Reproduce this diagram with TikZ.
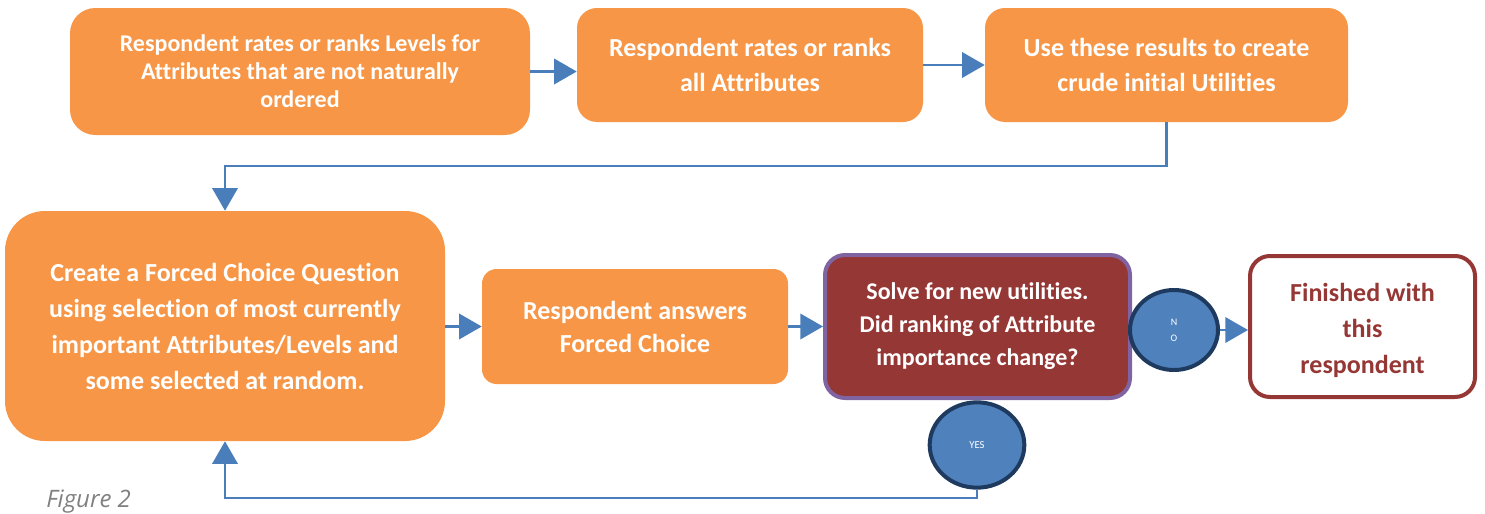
\documentclass[tikz,border=0pt]{standalone}
\usepackage{fontspec}
\setmainfont[Ligatures=NoCommon]{Carlito}
\newfontfamily\captionfont{Open Sans}
\usetikzlibrary{arrows.meta,shapes.geometric}
\definecolor{boxorange}{HTML}{F79646}
\definecolor{flowblue}{HTML}{4A7EBB}
\definecolor{bubblefill}{HTML}{4F81BD}
\definecolor{bubbleedge}{HTML}{1F3A5F}
\definecolor{darkred}{HTML}{953735}
\definecolor{violetedge}{HTML}{8064A2}
\definecolor{captiongray}{HTML}{808080}
\begin{document}
\begin{tikzpicture}[x=0.75pt,y=-0.75pt,
  every node/.style={inner sep=0pt,align=center},
  orangebox/.style={fill=boxorange,draw=none,text=white},
  bubble/.style={ellipse,fill=bubblefill,draw=bubbleedge,line width=3pt,text=white},
  flow/.style={draw=flowblue,line width=2pt},
  flowarrow/.style={flow,-{Triangle[length=17pt,width=19pt]}}]
\useasboundingbox (0,0) rectangle (1485,514);

% top row
\node[orangebox,rounded corners=19pt,minimum width=345pt,minimum height=95.25pt,
  font=\bfseries\fontsize{18}{21}\selectfont]
  (rateLevels) at (300,71.5)
  {Respondent rates or ranks Levels for\\Attributes that are not naturally\\ordered};
\node[orangebox,rounded corners=15pt,minimum width=259.5pt,minimum height=85.5pt,
  font=\bfseries\fontsize{19.5}{26.25}\selectfont]
  (rateAttr) at (750,65)
  {Respondent rates or ranks\\all Attributes};
\node[orangebox,rounded corners=15pt,minimum width=272.25pt,minimum height=85.5pt,
  font=\bfseries\fontsize{19.5}{26.25}\selectfont]
  (crude) at (1166.5,65)
  {Use these results to create\\crude initial Utilities};

% bottom row
\node[orangebox,rounded corners=30pt,minimum width=330pt,minimum height=172.5pt,
  font=\bfseries\fontsize{19.5}{27}\selectfont]
  (forced) at (225,326)
  {Create a Forced Choice Question\\using selection of most currently\\important Attributes/Levels and\\some selected at random.};
\node[orangebox,rounded corners=11pt,minimum width=229.5pt,minimum height=86.25pt,
  font=\bfseries\fontsize{19.5}{24.75}\selectfont]
  (answers) at (635,326.5)
  {Respondent answers\\Forced Choice};
\node[fill=darkred,draw=violetedge,line width=3pt,rounded corners=15pt,
  minimum width=228.75pt,minimum height=107.25pt,text=white,
  font=\bfseries\fontsize{18}{24.75}\selectfont]
  (solve) at (977.5,326.5)
  {Solve for new utilities.\\Did ranking of Attribute\\importance change?};
\node[fill=white,draw=darkred,line width=3pt,rounded corners=15pt,
  minimum width=168.75pt,minimum height=105.75pt,text=darkred,
  font=\bfseries\fontsize{19.5}{27}\selectfont]
  (finished) at (1362.5,326.5)
  {\rule{0pt}{19pt}Finished with\\this\\respondent};

% decision bubbles
\node[bubble,minimum width=66pt,minimum height=60pt,
  font=\fontsize{7.5}{12}\selectfont] (no) at (1174,330) {N\\O};
\node[bubble,minimum width=71pt,minimum height=64pt,
  font=\fontsize{8}{10}\selectfont] (yes) at (977,445) {YES};

% connectors
\draw[flowarrow] (rateLevels.east) -- (rateLevels.east -| rateAttr.west);
\draw[flowarrow] (rateAttr.east) -- (rateAttr.east -| crude.west);
\draw[flowarrow] (crude.south) -- (crude.south |- 0,166) -| (forced.north);
\draw[flowarrow] (forced.east |- answers.west) -- (answers.west);
\draw[flowarrow] (answers.east) -- (solve.west);
\draw[flowarrow] (no.east) -- (no.east -| finished.west);
\draw[flow] (solve.south) -- (yes.north);
\draw[flowarrow] (yes.south) -- (yes.south |- 0,498) -| (forced.south);

% caption
\node[anchor=west,text=captiongray,font=\captionfont\itshape\fontsize{18}{20}\selectfont]
  (caption) at (46,502) {Figure 2};
\end{tikzpicture}
\end{document}
